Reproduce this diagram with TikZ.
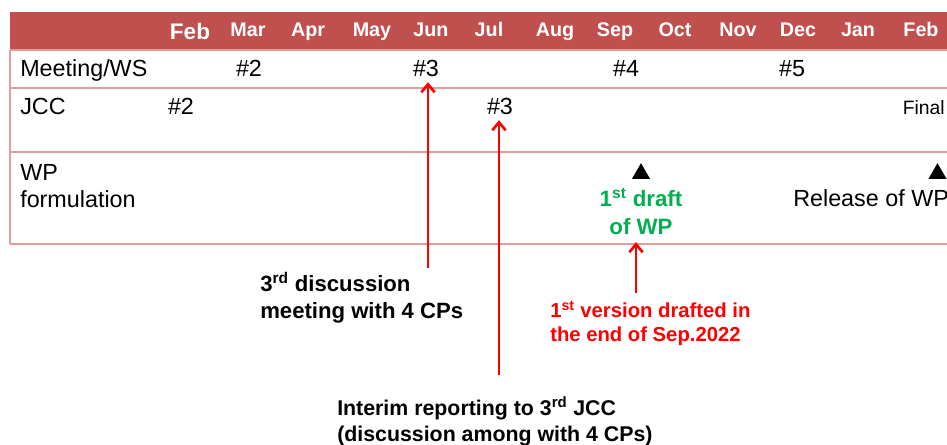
\documentclass[tikz,border=0pt]{standalone}
\usepackage{fontspec}
\setmainfont{Liberation Sans}
\usetikzlibrary{arrows.meta,positioning,shapes.geometric}
\definecolor{hdrred}{HTML}{C0504D}
\definecolor{gridpink}{HTML}{E39C9A}
\definecolor{markred}{HTML}{FF0000}
\definecolor{draftgreen}{HTML}{00B050}
\tikzset{
  month/.style={text=white,font=\fontsize{14.8}{17}\selectfont\bfseries,
                anchor=base,inner sep=0pt},
  cell/.style={font=\fontsize{17.5}{21.75}\selectfont,anchor=base,
               inner sep=3.5pt},
  rowlabel/.style={cell,anchor=base west,align=left,inner sep=0pt,
                   font=\fontsize{17.5}{20.25}\selectfont},
  gridline/.style={draw=gridpink,line width=0.9pt},
  milestone/.style={regular polygon,regular polygon sides=3,fill=black,
                    minimum size=15.8pt,inner sep=0pt},
  note/.style={font=\fontsize{16}{19}\selectfont\bfseries,
               anchor=base west,align=left,inner sep=0pt},
  rednote/.style={note,text=markred,font=\fontsize{15.2}{18.5}\selectfont\bfseries},
  greennote/.style={text=draftgreen,font=\fontsize{16.7}{21}\selectfont\bfseries,
                    anchor=base,align=center,inner sep=5pt},
  redarr/.style={-{Straight Barb[length=6pt,width=10pt]},line width=2pt,
                 draw=markred}
}
\begin{document}
\begin{tikzpicture}[x=0.75pt,y=-0.75pt]
  \useasboundingbox (0,0) rectangle (947,445);
  % header band with months
  \fill[hdrred] (10,12) rectangle (947,50);
  \node[month,font=\fontsize{16.9}{20}\selectfont\bfseries] (mon0) at (190,40) {Feb};
  \foreach \m/\x [count=\i] in {Mar/248,Apr/308,May/372,Jun/431,Jul/489,Aug/555,
      Sep/615,Oct/675,Nov/738,Dec/798,Jan/858,Feb/921}
    \node[month] (mon\i) at (\x,37) {\m};

  % table rules
  \draw[gridline] (10,50) -- (947,50);
  \draw[gridline] (10,88) -- (947,88);
  \draw[gridline] (10,152) -- (947,152);
  \draw[gridline] (10,244) -- (947,244);
  \draw[gridline] (10,50) -- (10,244);

  % rows
  \node[rowlabel] (meet) at (20,77) {Meeting/WS};
  \node[rowlabel] (jcc) at (20,115) {JCC};
  \node[rowlabel] (wp) at (20,208) {WP\\formulation};

  \node[cell] (meet2) at (249,77) {\#2};
  \node[cell] (meet3) at (426,77) {\#3};
  \node[cell] (meet4) at (626,77) {\#4};
  \node[cell] (meet5) at (792,77) {\#5};
  \node[cell] (jcc2) at (181,115) {\#2};
  \node[cell] (jcc3) at (500,115) {\#3};
  \node[cell,anchor=base east,inner sep=0pt,
        font=\fontsize{14.5}{17}\selectfont] (final) at (945,115) {Final};

  \node[milestone] (draftmark) at (641,173.7) {};
  \node[milestone] (releasemark) at (937.5,173.7) {};
  \node[greennote] (draft) at (641,235) {1\textsuperscript{st} draft\\of WP};
  \node[cell,anchor=base west,inner sep=0pt] (release) at (793,207) {Release of WP};

  % notes below
  \node[note,font=\fontsize{16.6}{20.5}\selectfont\bfseries] (disc) at (260,319)
    {3\textsuperscript{rd} discussion\\meeting with 4 CPs};
  \node[rednote] (version) at (550,342)
    {1\textsuperscript{st} version drafted in\\the end of Sep.2022};
  \node[note] (interim) at (337,441)
    {Interim reporting to 3\textsuperscript{rd} JCC\\(discussion among with 4 CPs)};

  \coordinate (disctail) at (428,268);
  \coordinate (interimtail) at (499,375);
  \coordinate (versiontail) at (636,293);
  \draw[redarr] (disctail) -- (disctail |- meet3.south);
  \draw[redarr] (interimtail) -- (interimtail |- jcc3.south);
  \draw[redarr] (versiontail) -- (versiontail |- draft.south);
\end{tikzpicture}
\end{document}
